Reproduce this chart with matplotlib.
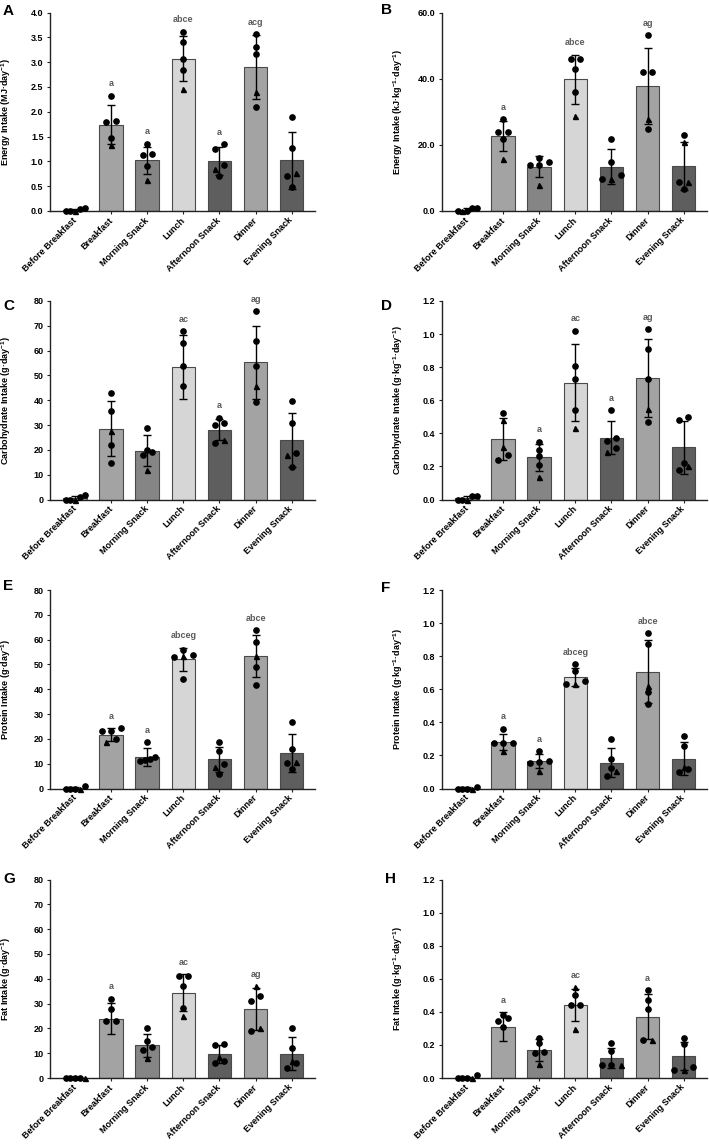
import numpy as np
import matplotlib
matplotlib.use('Agg')
from matplotlib import pyplot as plt

plt.rcParams['font.family'] = ['Liberation Sans', 'DejaVu Sans']
plt.rcParams['mathtext.fontset'] = 'custom'
plt.rcParams['mathtext.rm'] = 'Liberation Sans:bold'
plt.rcParams['mathtext.default'] = 'rm'

meals = ['Before Breakfast', 'Breakfast', 'Morning Snack', 'Lunch',
         'Afternoon Snack', 'Dinner', 'Evening Snack']
bar_colors = ['#a3a3a3', '#a3a3a3', '#858585', '#d6d6d6', '#5e5e5e', '#a3a3a3', '#5e5e5e']

# ---- A: energy, MJ/day
A_mean = [0.02, 1.74, 1.02, 3.07, 1.01, 2.90, 1.02]
A_sd = [0.03, 0.39, 0.27, 0.45, 0.28, 0.64, 0.57]
A_circ = [[0.07, 0.0, 0.04, 0.0], [2.32, 1.79, 1.82, 1.48], [1.36, 1.12, 1.14, 0.90],
          [3.61, 3.40, 3.06, 2.84], [1.35, 1.25, 0.92, 0.71], [3.56, 3.31, 3.16, 2.09],
          [1.89, 1.27, 0.70, 0.48]]
A_tri = [[0.0], [1.32], [0.62], [2.46], [0.84], [2.40], [0.77]]
A_sig = ['', 'a', 'a', 'abce', 'a', 'acg', '']
A_ticks = [0.0, 0.5, 1.0, 1.5, 2.0, 2.5, 3.0, 3.5, 4.0]

# ---- B: energy, kJ/kg/day
B_mean = [0.4, 22.6, 13.4, 39.8, 13.4, 37.8, 13.6]
B_sd = [0.5, 4.6, 3.1, 7.4, 5.2, 11.5, 7.3]
B_circ = [[0.9, 0.1, 0.9, 0.0], [27.8, 23.8, 23.8, 21.9], [14.8, 14.0, 15.9, 14.0],
          [45.9, 45.9, 42.9, 36.0], [21.9, 14.9, 10.8, 9.8], [53.1, 41.9, 41.9, 24.9],
          [22.9, 8.8, 6.8]]
B_tri = [[0.0], [15.8], [7.8], [28.8], [9.8], [27.7], [20.9, 8.8]]
B_sig = ['', 'a', '', 'abce', '', 'ag', '']
B_ticks = [0.0, 20.0, 40.0, 60.0]

# ---- C: carbohydrate, g/day
C_mean = [0.6, 28.6, 19.6, 53.3, 28.2, 55.4, 24.0]
C_sd = [0.9, 11.1, 6.2, 12.8, 4.4, 14.7, 11.0]
C_circ = [[2.0, 1.0, 0.0, 0.0], [42.8, 35.8, 21.9, 14.8], [28.9, 19.1, 20.0, 17.9],
          [67.9, 63.0, 53.8, 45.8], [33.0, 29.9, 30.9, 22.8], [76.0, 63.9, 53.8, 39.1],
          [39.7, 31.0, 18.9, 12.9]]
C_tri = [[0.0], [27.5], [11.8], [], [24.0], [45.8], [17.9]]
C_sig = ['', '', '', 'ac', 'a', 'ag', '']
C_ticks = [0, 10, 20, 30, 40, 50, 60, 70, 80]

# ---- D: carbohydrate, g/kg/day
D_mean = [0.01, 0.367, 0.254, 0.706, 0.373, 0.736, 0.317]
D_sd = [0.01, 0.127, 0.083, 0.232, 0.099, 0.237, 0.160]
D_circ = [[0.02, 0.0, 0.02, 0.0], [0.52, 0.27, 0.24], [0.35, 0.30, 0.26, 0.21],
          [1.02, 0.81, 0.73, 0.54], [0.54, 0.353, 0.369, 0.31], [1.03, 0.91, 0.73, 0.47],
          [0.50, 0.48, 0.22, 0.18]]
D_tri = [[0.0], [0.48, 0.32], [0.135], [0.43], [0.29], [0.545], [0.205]]
D_sig = ['', '', 'a', 'ac', 'a', 'ag', '']
D_ticks = [0.0, 0.2, 0.4, 0.6, 0.8, 1.0, 1.2]

# ---- E: protein, g/day
E_mean = [0.3, 21.6, 12.8, 52.0, 11.7, 53.5, 14.4]
E_sd = [0.4, 2.6, 3.6, 4.8, 5.2, 8.5, 7.6]
E_circ = [[1.0, 0.0, 0.0, 0.0], [24.3, 23.0, 23.0, 20.0], [18.7, 12.0, 12.8, 11.3, 10.9],
          [53.9, 56.0, 52.8, 44.0], [18.8, 15.0, 9.9, 6.0], [63.8, 58.9, 48.8, 41.9],
          [26.9, 16.0, 10.1, 7.9]]
E_tri = [[0.0], [18.8], [], [53.6], [8.7], [53.5], [10.8]]
E_sig = ['', 'a', 'a', 'abceg', '', 'abce', '']
E_ticks = [0, 10, 20, 30, 40, 50, 60, 70, 80]

# ---- F: protein, g/kg/day
F_mean = [0.003, 0.282, 0.167, 0.672, 0.157, 0.705, 0.181]
F_sd = [0.005, 0.047, 0.042, 0.055, 0.087, 0.19, 0.10]
F_circ = [[0.012, 0.0, 0.0, 0.0], [0.362, 0.278, 0.278, 0.274], [0.227, 0.167, 0.157, 0.161],
          [0.751, 0.713, 0.650, 0.630], [0.300, 0.179, 0.121, 0.077], [0.940, 0.872, 0.582, 0.513],
          [0.318, 0.258, 0.117, 0.097]]
F_tri = [[0.0], [0.227], [0.107], [0.630], [0.107], [0.620], [0.131]]
F_sig = ['', 'a', 'a', 'abceg', '', 'abce', '']
F_ticks = [0.0, 0.2, 0.4, 0.6, 0.8, 1.0, 1.2]

# ---- G: fat, g/day
G_mean = [0.0, 23.9, 13.1, 34.4, 9.65, 27.9, 9.8]
G_sd = [0.0, 6.3, 4.6, 7.4, 3.6, 8.4, 6.7]
G_circ = [[0.0, 0.0, 0.0, 0.0], [32.0, 27.7, 23.0, 23.0], [20.1, 15.1, 12.3, 11.1],
          [41.2, 41.2, 37.1, 28.1], [13.1, 13.9, 5.9, 7.0], [33.2, 31.2, 19.0],
          [20.1, 12.0, 6.0, 4.0]]
G_tri = [[0.0], [], [8.0], [25.1], [8.4], [36.9, 20.0], [7.0]]
G_sig = ['', 'a', '', 'ac', '', 'ag', '']
G_ticks = [0, 10, 20, 30, 40, 50, 60, 70, 80]

# ---- H: fat, g/kg/day
H_mean = [0.003, 0.309, 0.169, 0.444, 0.123, 0.369, 0.131]
H_sd = [0.005, 0.087, 0.065, 0.097, 0.06, 0.136, 0.084]
H_circ = [[0.016, 0.0, 0.0, 0.0], [0.383, 0.363, 0.343, 0.309], [0.242, 0.21, 0.151, 0.157],
          [0.50, 0.442, 0.442], [0.212, 0.165, 0.079, 0.079], [0.53, 0.474, 0.42, 0.23],
          [0.242, 0.208, 0.048, 0.069]]
H_tri = [[0.0], [], [0.085], [0.549, 0.296], [0.079], [0.23], [0.05]]
H_sig = ['', 'a', '', 'ac', '', 'a', '']
H_ticks = [0.0, 0.2, 0.4, 0.6, 0.8, 1.0, 1.2]

kg_day = '·kg$^{-1}$·day$^{-1}$)'
labels = {
    'A': 'Energy Intake (MJ·day$^{-1}$)',
    'B': 'Energy Intake (kJ' + kg_day,
    'C': 'Carbohydrate Intake (g·day$^{-1}$)',
    'D': 'Carbohydrate Intake (g' + kg_day,
    'E': 'Protein Intake (g·day$^{-1}$)',
    'F': 'Protein Intake (g' + kg_day,
    'G': 'Fat Intake (g·day$^{-1}$)',
    'H': 'Fat Intake (g' + kg_day,
}

W, H = 709, 1144
AX_W, AX_H = 265, 198.5
XLIM = (-0.7, 6.65)
CAT_PX = AX_W / (XLIM[1] - XLIM[0])


def swarm_offsets(values, ypx):
    # group points sitting at about the same height into rows, spread them sideways
    order = np.argsort(values, kind='stable')
    offs = np.zeros(len(values))
    rows = []
    for i in order:
        if rows and (values[i] - values[rows[-1][0]]) * ypx < 5:
            rows[-1].append(i)
        else:
            rows.append([i])
    for row in rows:
        n = len(row)
        sp = 9.6 if n <= 3 else 4.8
        for k, i in enumerate(row):
            offs[i] = (k - (n - 1) / 2.0) * sp
    return offs / CAT_PX


def draw_panel(ax, mean, sd, circ, tri, sig, yticks, yfmt, ylabel):
    x = np.arange(len(meals))
    ymax = yticks[-1]
    ax.bar(x, mean, width=0.66, color=bar_colors, edgecolor='#4a4a4a', linewidth=0.8, zorder=2)
    ax.errorbar(x, mean, yerr=sd, fmt='none', ecolor='black', elinewidth=1.0,
                capsize=2.6, capthick=1.0, zorder=3, clip_on=False)
    ypx = AX_H / ymax
    for i in range(len(meals)):
        vals = list(circ[i]) + list(tri[i])
        marks = ['o'] * len(circ[i]) + ['^'] * len(tri[i])
        offs = swarm_offsets(np.array(vals, dtype=float), ypx)
        for v, m, o in zip(vals, marks, offs):
            ax.plot(i + o, v, marker=m, color='black', ms=3.8 if m == 'o' else 3.6,
                    ls='none', zorder=4, clip_on=False)
        if sig[i]:
            top = max(vals + [mean[i] + sd[i]])
            ax.text(i, top + 0.06 * ymax, sig[i], ha='center', va='center',
                    fontsize=6.5, fontweight='bold', color='#5a5a5a')
    ax.set_xlim(XLIM)
    ax.set_ylim(0, ymax)
    ax.set_yticks(yticks)
    ax.set_yticklabels([yfmt % t for t in yticks], fontsize=6.5, fontweight='bold')
    ax.set_xticks(x)
    ax.set_xticklabels(meals, rotation=45, ha='right', va='center', rotation_mode='anchor',
                       fontsize=6.5, fontweight='bold')
    ax.tick_params(direction='out', length=2.2, width=0.8, color='#222222', pad=2.5)
    ax.tick_params(axis='x', pad=3.5)
    for s in ['top', 'right']:
        ax.spines[s].set_visible(False)
    for s in ['left', 'bottom']:
        ax.spines[s].set_linewidth(1.0)
        ax.spines[s].set_color('#222222')
    ax.set_ylabel(ylabel, fontsize=6.5, fontweight='bold', va='center')
    ax.yaxis.set_label_coords(-0.165, 0.5)


fig = plt.figure(figsize=(W / 100.0, H / 100.0), dpi=100)

panels = [
    ('A', A_mean, A_sd, A_circ, A_tri, A_sig, A_ticks, '%.1f'),
    ('B', B_mean, B_sd, B_circ, B_tri, B_sig, B_ticks, '%.1f'),
    ('C', C_mean, C_sd, C_circ, C_tri, C_sig, C_ticks, '%d'),
    ('D', D_mean, D_sd, D_circ, D_tri, D_sig, D_ticks, '%.1f'),
    ('E', E_mean, E_sd, E_circ, E_tri, E_sig, E_ticks, '%d'),
    ('F', F_mean, F_sd, F_circ, F_tri, F_sig, F_ticks, '%.1f'),
    ('G', G_mean, G_sd, G_circ, G_tri, G_sig, G_ticks, '%d'),
    ('H', H_mean, H_sd, H_circ, H_tri, H_sig, H_ticks, '%.1f'),
]
col_left = [50, 442]
row_bottom = [211, 499.5, 788.5, 1078]
letter_pos = [(3, 4), (381, 3), (3, 299), (381, 299), (3, 579), (381, 581), (3, 872), (385, 872)]

for k, (name, mean, sd, circ, tri, sig, ticks, fmt) in enumerate(panels):
    r, c = k // 2, k % 2
    ax = fig.add_axes([col_left[c] / W, 1 - row_bottom[r] / H, AX_W / W, AX_H / H])
    draw_panel(ax, mean, sd, circ, tri, sig, ticks, fmt, labels[name])
    lx, ly = letter_pos[k]
    fig.text(lx / W, 1 - ly / H, name, ha='left', va='top', fontsize=11, fontweight='bold')

fig.savefig('out.png', dpi=100)
